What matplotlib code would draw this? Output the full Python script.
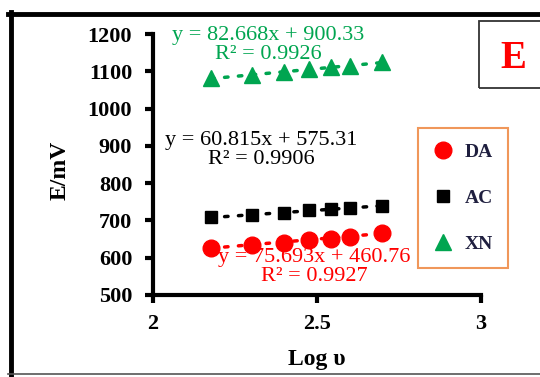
import numpy as np
import matplotlib as mpl
mpl.use('Agg')
import matplotlib.pyplot as plt
from matplotlib.lines import Line2D
from matplotlib.patches import Rectangle

plt.rcParams['font.family'] = ['Liberation Serif', 'DejaVu Serif']

# scan rate log values and peak potentials (mV)
log_v = [2.176, 2.301, 2.398, 2.477, 2.544, 2.602, 2.699]
E_DA = [626, 633, 640, 648, 651, 656, 665]
E_AC = [708, 714, 720, 727, 731, 732, 740]
E_XN = [1081, 1089, 1097, 1107, 1112, 1114, 1124]

# linear fits (slope, intercept, R^2)
fit_DA = (75.693, 460.76, 0.9927)
fit_AC = (60.815, 575.31, 0.9906)
fit_XN = (82.668, 900.33, 0.9926)

W, H = 540, 377
fig = plt.figure(figsize=(W / 100, H / 100), dpi=100)
ax = fig.add_axes([153 / W, 1 - 295 / H, (481 - 153) / W, (295 - 34) / H])

series = [
    ('DA', E_DA, fit_DA, '#FF0000', 'o', 12),
    ('AC', E_AC, fit_AC, '#000000', 's', 8.5),
    ('XN', E_XN, fit_XN, '#00A550', '^', 12),
]
x = np.array(log_v)
for name, y, fit, col, mk, ms in series:
    ax.plot(x, y, linestyle='none', marker=mk, ms=ms, color=col, label=name)
    xl = np.array([x[0], x[-1]])
    ax.plot(xl, fit[0] * xl + fit[1], color=col, lw=2.5,
            linestyle=(0, (1, 3)), dash_capstyle='round')

ax.set_xlim(2, 3)
ax.set_ylim(500, 1200)
ax.set_xticks([2, 2.5, 3])
ax.set_xticklabels(['2', '2.5', '3'])
ax.set_yticks(np.arange(500, 1201, 100))
for s in ['top', 'right']:
    ax.spines[s].set_visible(False)
for s in ['left', 'bottom']:
    ax.spines[s].set_linewidth(3)
ax.tick_params(direction='out', length=6, width=3, labelsize=16)
ax.tick_params(axis='y', pad=9)
ax.tick_params(axis='x', pad=8)
for lab in ax.get_xticklabels() + ax.get_yticklabels():
    lab.set_fontweight('bold')

# regression equations
def eq(fit):
    return 'y = %.3fx + %.2f\nR² = %.4f' % fit

ax.text(268 / W, 1 - 45 / H, eq(fit_XN), transform=fig.transFigure, color='#00A550',
        fontsize=16, ha='center', va='center', linespacing=0.95)
ax.text(261 / W, 1 - 150 / H, eq(fit_AC), transform=fig.transFigure, color='black',
        fontsize=16, ha='center', va='center', linespacing=0.95)
ax.text(314 / W, 1 - 267 / H, eq(fit_DA), transform=fig.transFigure, color='#FF0000',
        fontsize=16, ha='center', va='center', linespacing=0.95)

fig.text(317 / W, 1 - 360 / H, 'Log υ', fontsize=17, fontweight='bold',
         ha='center', va='center')
fig.text(60 / W, 1 - 170 / H, 'E/mV', fontsize=17, fontweight='bold',
         ha='center', va='center', rotation=90)

leg = ax.legend(loc='upper left', bbox_to_anchor=(418 / W, 1 - 128 / H),
                bbox_transform=fig.transFigure, frameon=True, fancybox=False,
                prop={'weight': 'bold', 'size': 14}, labelspacing=1.45,
                handlelength=1.0, handletextpad=0.6, borderpad=0.8,
                borderaxespad=0)
leg.get_frame().set_edgecolor('#ED7D31')
leg.get_frame().set_linewidth(1.5)
for t in leg.get_texts():
    t.set_color('#1F1F3F')

# panel letter
fig.patches.append(Rectangle((479 / W, 1 - 88 / H), 70 / W, 67 / H,
                             transform=fig.transFigure, fill=False,
                             edgecolor='#333333', lw=1.3))
fig.text(513 / W, 1 - 58 / H, 'E', color='#FF0000', fontsize=28,
         fontweight='bold', ha='center', va='center')

# outer frame
fig.lines.append(Line2D([8 / W, 1], [1 - 14 / H, 1 - 14 / H], transform=fig.transFigure,
                        color='black', lw=3.5))
fig.lines.append(Line2D([11 / W, 11 / W], [1 - 12 / H, 1 - 375 / H], transform=fig.transFigure,
                        color='black', lw=3.5))
fig.lines.append(Line2D([8 / W, 1], [1 - 374 / H, 1 - 374 / H], transform=fig.transFigure,
                        color='#555555', lw=1.2))

fig.savefig('out.png', dpi=100)
